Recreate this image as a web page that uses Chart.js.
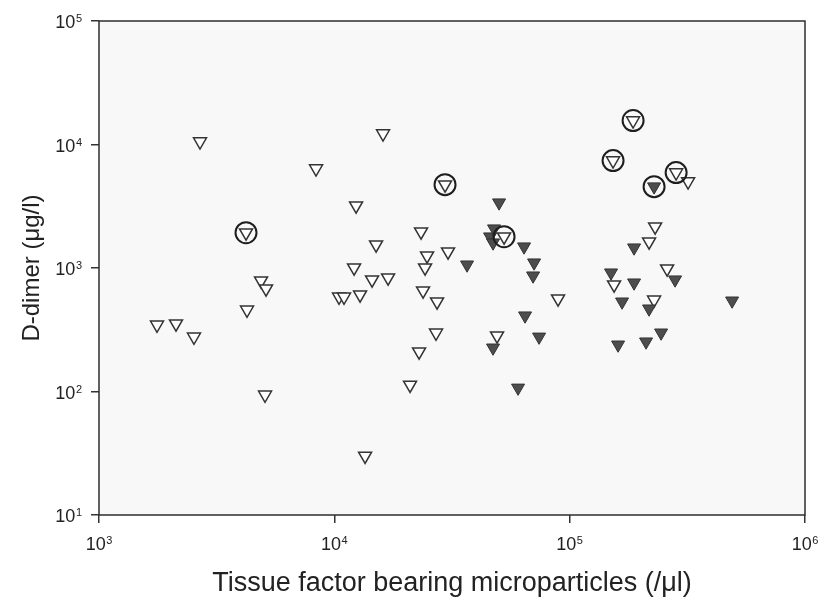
<!DOCTYPE html>
<html lang="en">

<head>
    <meta charset="UTF-8">
    <title>D-dimer vs TF microparticles</title>
    <script src="https://cdn.jsdelivr.net/npm/chart.js"></script>
    <style>
        body {
            margin: 0;
            background: #fff;
        }

        #wrap {
            width: 820px;
            height: 603px;
        }
    </style>
</head>

<body>
    <div id="wrap">
        <canvas id="chart" width="820" height="603"></canvas>
    </div>

    <script>
        // open triangles (x = TF microparticles /ul, y = D-dimer ug/l)
        const openX = [1764, 2124, 2533, 2687, 4214, 4256, 4881, 5125, 5076, 8362, 10471, 10996, 12131, 12369, 12862,
            13508, 14465, 15043, 16106, 16919, 20977, 22909, 23360, 23823, 24293, 24774, 27050, 27320, 29537, 30420,
            49137, 52626, 89253, 152900, 154400, 186000, 217500, 228400, 230700, 259400, 283400, 318600];
        const openY = [347, 354, 277, 10560, 1932, 459, 789, 680, 94, 6378, 585, 585, 1006, 3197, 608,
            30.1, 804, 1545, 12255, 834, 113, 210, 1969, 655, 1006, 1258, 299, 533, 4732, 1356,
            283, 1793, 564, 7404, 732, 15620, 1634, 553, 2161, 987, 5920, 5005];

        // filled triangles
        const filledX = [36640, 45890, 47250, 47250, 47720, 50120, 60350, 64000, 64640, 69920, 70600, 74130,
            149900, 160600, 167000, 187800, 187800, 211200, 217500, 228400, 244600, 280500, 490100];
        const filledY = [1063, 1793, 1603, 226, 2082, 3381, 107, 1488, 411, 866, 1104, 277,
            916, 239, 533, 1460, 760, 253, 468, 4559, 299, 804, 543];

        // circled points
        const circleX = [4214, 29537, 52626, 152900, 186000, 283400, 228400];
        const circleY = [1932, 4732, 1793, 7404, 15620, 5920, 4559];

        // decade exponents used for ticks
        const xTickExps = [3, 4, 5, 6];
        const yTickExps = [1, 2, 3, 4, 5];

        const FONT = '"Liberation Sans", Arial, sans-serif';

        function toPoints(xs, ys) {
            return xs.map((x, i) => ({ x: x, y: ys[i] }));
        }

        function drawPow(ctx, exp, x, yc, align) {
            ctx.font = '18px ' + FONT;
            const wb = ctx.measureText('10').width;
            ctx.font = '11px ' + FONT;
            const we = ctx.measureText(String(exp)).width;
            const left = align === 'right' ? x - wb - we - 0.5 : x - (wb + we + 0.5) / 2;
            ctx.textAlign = 'left';
            ctx.textBaseline = 'alphabetic';
            ctx.fillStyle = '#222';
            ctx.font = '18px ' + FONT;
            ctx.fillText('10', left, yc + 6.5);
            ctx.font = '11px ' + FONT;
            ctx.fillText(String(exp), left + wb + 0.5, yc + 0.5);
        }

        const framePlugin = {
            id: 'frame',
            beforeDatasetsDraw(chart) {
                const { ctx, chartArea: a } = chart;
                ctx.save();
                ctx.fillStyle = '#f8f8f8';
                ctx.fillRect(a.left, a.top, a.right - a.left, a.bottom - a.top);
                ctx.strokeStyle = '#2e2e2e';
                ctx.lineWidth = 1.5;
                ctx.strokeRect(a.left, a.top, a.right - a.left, a.bottom - a.top);
                ctx.restore();
            },
            afterDraw(chart) {
                const ctx = chart.ctx;
                const xs = chart.scales.x;
                const ys = chart.scales.y;
                ctx.save();
                xTickExps.forEach(e => {
                    drawPow(ctx, e, xs.getPixelForValue(Math.pow(10, e)), 543, 'center');
                });
                yTickExps.forEach(e => {
                    drawPow(ctx, e, 82, ys.getPixelForValue(Math.pow(10, e)) + 0.5, 'right');
                });
                ctx.restore();
            }
        };

        const tickGrid = {
            display: true,
            drawOnChartArea: false,
            drawTicks: true,
            tickLength: 8,
            color: '#333',
            lineWidth: 1.5
        };

        new Chart(document.getElementById('chart'), {
            type: 'scatter',
            data: {
                datasets: [
                    {
                        label: 'circled',
                        data: toPoints(circleX, circleY),
                        pointStyle: 'circle',
                        pointRadius: 10.5,
                        pointBackgroundColor: 'rgba(0,0,0,0)',
                        pointBorderColor: '#1e1e1e',
                        pointBorderWidth: 2,
                        order: 0
                    },
                    {
                        label: 'filled',
                        data: toPoints(filledX, filledY),
                        pointStyle: 'triangle',
                        rotation: 180,
                        pointRadius: 7.5,
                        pointBackgroundColor: '#4d4d4d',
                        pointBorderColor: '#333',
                        pointBorderWidth: 1,
                        order: 1
                    },
                    {
                        label: 'open',
                        data: toPoints(openX, openY),
                        pointStyle: 'triangle',
                        rotation: 180,
                        pointRadius: 7.5,
                        pointBackgroundColor: '#fff',
                        pointBorderColor: '#333',
                        pointBorderWidth: 1.5,
                        order: 2
                    }
                ]
            },
            options: {
                responsive: false,
                animation: false,
                layout: { padding: { top: 21, right: 15, left: 0, bottom: 0 } },
                plugins: {
                    legend: { display: false },
                    tooltip: { enabled: false }
                },
                scales: {
                    x: {
                        type: 'logarithmic',
                        min: 1e3,
                        max: 1e6,
                        afterBuildTicks: s => { s.ticks = xTickExps.map(e => ({ value: Math.pow(10, e) })); },
                        afterFit: s => { s.height = 88; },
                        ticks: { display: false },
                        grid: tickGrid,
                        border: { display: false },
                        title: {
                            display: true,
                            text: 'Tissue factor bearing microparticles (/μl)',
                            color: '#222',
                            font: { family: FONT, size: 27 },
                            padding: { top: 0, bottom: 2.8 }
                        }
                    },
                    y: {
                        type: 'logarithmic',
                        min: 1e1,
                        max: 1e5,
                        afterBuildTicks: s => { s.ticks = yTickExps.map(e => ({ value: Math.pow(10, e) })); },
                        afterFit: s => { s.width = 99; },
                        ticks: { display: false },
                        grid: tickGrid,
                        border: { display: false },
                        title: {
                            display: true,
                            text: 'D-dimer (μg/l)',
                            color: '#222',
                            font: { family: FONT, size: 24 },
                            padding: { top: 17.6, bottom: 0 }
                        }
                    }
                }
            },
            plugins: [framePlugin]
        });
    </script>
</body>

</html>
